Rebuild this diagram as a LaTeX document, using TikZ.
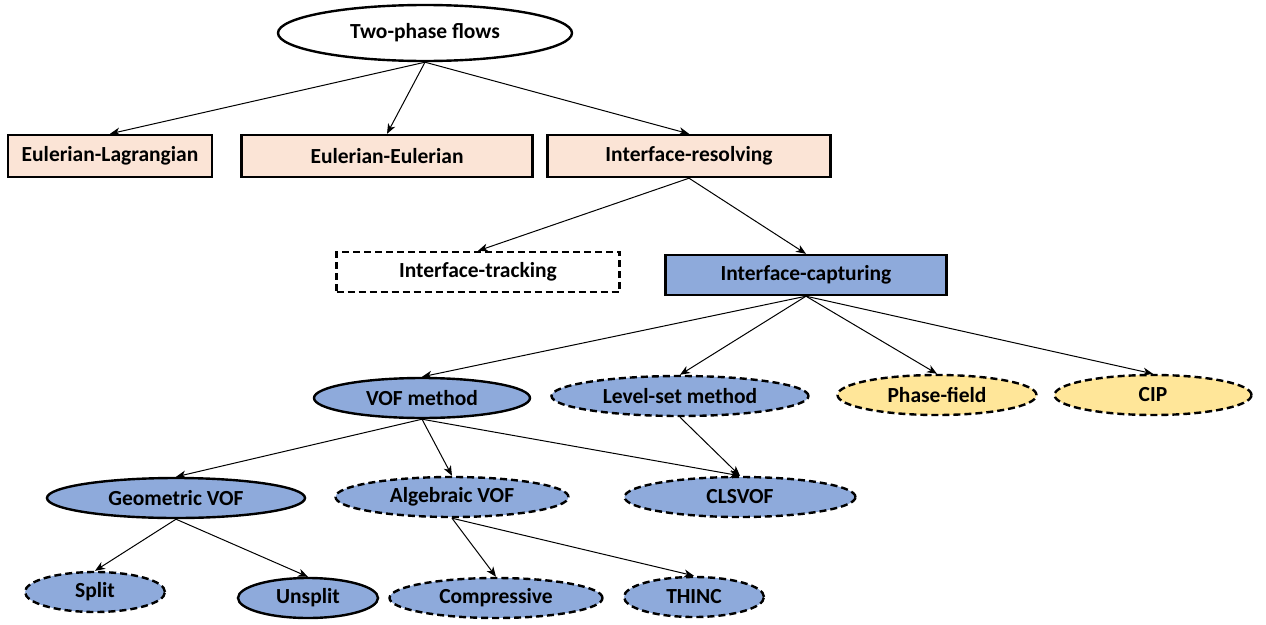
\documentclass[tikz,border=0pt]{standalone}
\usepackage{fontspec}
\setmainfont{Carlito}
\usepackage{xcolor}
\definecolor{peach}{RGB}{251,228,214}
\definecolor{vofblue}{RGB}{142,170,219}
\definecolor{sand}{RGB}{255,230,153}
\usetikzlibrary{
	arrows.meta,
	shapes.geometric
}
\tikzstyle{every picture}+=[>={Stealth[length=10pt, width=8pt, inset=3pt]}]

\begin{document}
\begin{tikzpicture}[
		x=1pt, y=-1pt,
		every node/.style={font=\fontsize{21.5}{24}\selectfont\bfseries, inner sep=0pt},
		box/.style={draw, line width=2.4pt, rectangle, minimum height=42pt},
		oval/.style={draw, line width=2.4pt, ellipse, minimum height=40pt, fill=vofblue},
		dashline/.style={dash pattern=on 7pt off 4pt},
		arr/.style={->, line width=1pt}
		]
	\useasboundingbox (0,0) rectangle (1266,624);

	% top level
	\node[draw, ellipse, line width=2.4pt, minimum width=294pt, minimum height=56pt] (flows) at (425,33) {Two-phase flows};

	\node[box, fill=peach, minimum width=204pt] (eulag) at (110,156) {Eulerian-Lagrangian};
	\node[box, fill=peach, minimum width=291pt] (eueu) at (387,156) {Eulerian-Eulerian};
	\node[box, fill=peach, minimum width=283pt] (resolving) at (689,156) {Interface-resolving};

	% interface methods
	\node[box, dashline, minimum width=283pt, minimum height=40pt] (tracking) at (478,272) {Interface-tracking};
	\node[box, fill=vofblue, minimum width=281pt, minimum height=40pt] (capturing) at (806,275) {Interface-capturing};

	\node[oval, minimum width=216pt] (vof) at (422,398) {VOF method};
	\node[oval, dashline, minimum width=257pt] (levelset) at (680,396) {Level-set method};
	\node[oval, dashline, fill=sand, minimum width=199pt] (phasefield) at (937,395) {Phase-field};
	\node[oval, dashline, fill=sand, minimum width=197pt] (cip) at (1153,395) {CIP};

	% VOF family
	\node[oval, minimum width=258pt] (geovof) at (176,498) {Geometric VOF};
	\node[oval, dashline, minimum width=233pt] (algvof) at (452,497) {Algebraic VOF};
	\node[oval, dashline, minimum width=231pt] (clsvof) at (740,497) {CLSVOF};

	\node[oval, dashline, minimum width=140pt] (split) at (95,592) {Split};
	\node[oval, minimum width=140pt] (unsplit) at (308,598) {Unsplit};
	\node[oval, dashline, minimum width=213pt] (compressive) at (496,598) {Compressive};
	\node[oval, dashline, minimum width=140pt] (thinc) at (694,597) {THINC};

	% connectors
	\foreach \from/\to in {flows/eulag, flows/eueu, flows/resolving,
			resolving/tracking, resolving/capturing,
			capturing/vof, capturing/levelset, capturing/phasefield, capturing/cip,
			vof/geovof, vof/algvof, vof/clsvof, levelset/clsvof,
			geovof/split, geovof/unsplit, algvof/compressive, algvof/thinc} {
		\draw[arr] (\from.south) -- (\to.north);
	}

\end{tikzpicture}
\end{document}
